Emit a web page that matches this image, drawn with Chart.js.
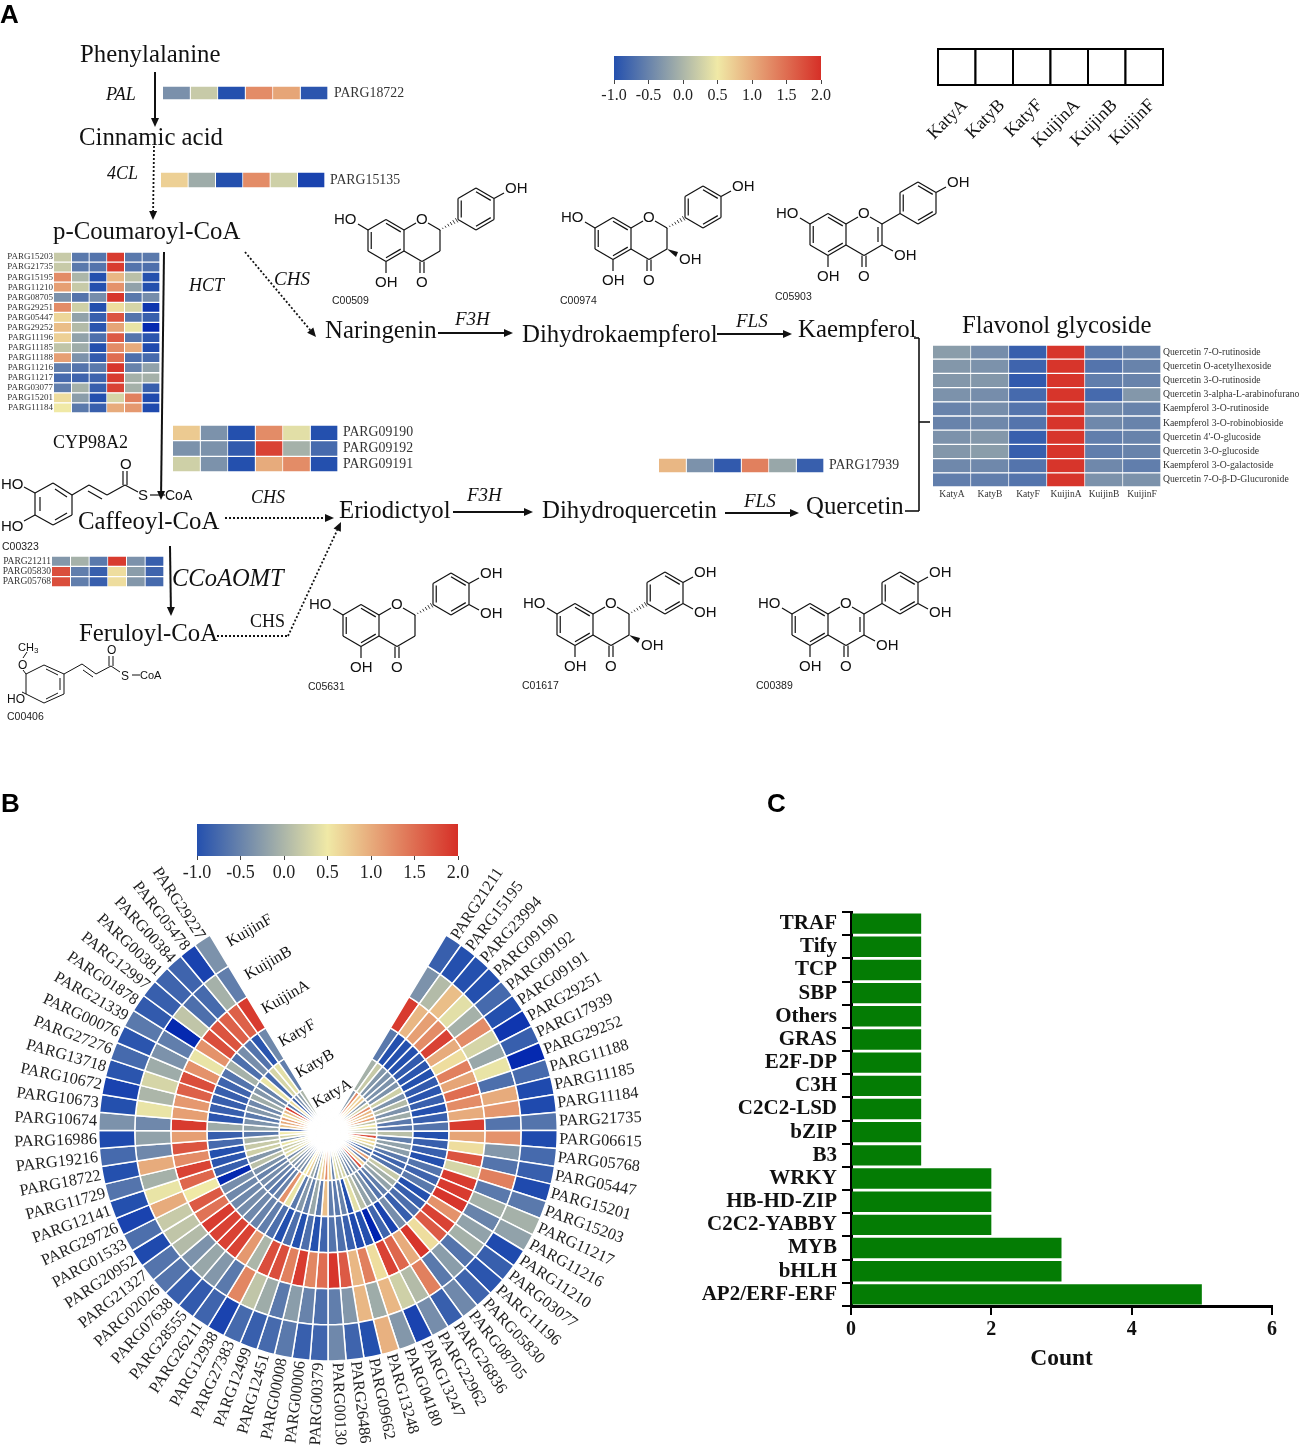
<!DOCTYPE html>
<html>
<head>
<meta charset="utf-8">
<title>Flavonoid pathway</title>
<script src="https://cdn.jsdelivr.net/npm/chart.js@4"></script>
<style>
  html, body { margin: 0; padding: 0; background: #fff; }
  #page { position: relative; width: 1299px; height: 1445px; overflow: hidden; }
  canvas { position: absolute; }
  svg { position: absolute; left: 0; top: 0; }
</style>
</head>
<body>
<div id="page"></div>
<script>
const samples = ["KatyA", "KatyB", "KatyF", "KuijinA", "KuijinB", "KuijinF"];

// panel A heatmaps, one row per gene, columns follow samples
const palGenes = ["PARG18722"];
const palValues = [[-0.37, 0.2, -1, 1.25, 1.05, -0.95]];
const clGenes = ["PARG15135"];
const clValues = [[0.7, -0.1, -1, 1.25, 0.25, -1.1]];
const hctGenes = ["PARG15203", "PARG21735", "PARG15195", "PARG11210", "PARG08705", "PARG29251", "PARG05447", "PARG29252",
  "PARG11196", "PARG11185", "PARG11188", "PARG11216", "PARG11217", "PARG03077", "PARG15201", "PARG11184"];
const hctValues = [
  [0.2, -0.6, -0.65, 1.9, -0.6, -0.6],
  [0.2, -0.6, -0.65, 1.9, -0.65, -0.7],
  [1.25, 0, -1, 0.9, 0.1, -1],
  [1.1, 0.2, -1, 1.2, -0.2, -1],
  [-0.35, -0.65, -0.4, 1.95, -0.6, -0.4],
  [1.25, 0.25, -1, 0.6, 0.3, -1.2],
  [0.65, -0.2, -0.85, 1.7, -0.65, -0.85],
  [0.85, 0.05, -0.95, 1.05, 0.45, -1.3],
  [0.7, -0.2, -0.7, 1.65, -0.65, -0.95],
  [0.15, -0.1, -1, 1.25, 1, -1.05],
  [1.1, -0.35, -0.9, 1.5, -0.7, -0.75],
  [-0.55, -0.65, -0.6, 1.95, -0.5, -0.2],
  [-0.75, -0.8, -0.8, 1.9, -0.05, -0.05],
  [-0.55, -0.05, -0.85, 1.85, -0.05, -0.85],
  [0.6, -0.25, -1, 0.3, 1.35, -1.05],
  [0.5, -0.6, -0.85, 1, 1.15, -1.05]
];
const cypGenes = ["PARG09190", "PARG09192", "PARG09191"];
const cypValues = [
  [0.75, -0.35, -1, 1.25, 0.4, -1],
  [-0.35, -0.35, -0.9, 1.85, -0.05, -0.75],
  [0.25, -0.35, -1, 1, 1.25, -1]
];
const comtGenes = ["PARG21211", "PARG05830", "PARG05768"];
const comtValues = [
  [-0.3, -0.05, -0.6, 1.9, -0.35, -0.85],
  [1.75, -0.55, -0.85, 0.6, -0.25, -0.8],
  [1.75, -0.55, -0.85, 0.6, -0.3, -0.75]
];
const flsGenes = ["PARG17939"];
const flsValues = [[0.9, -0.35, -0.9, 1.35, -0.15, -0.85]];
const glycosides = ["Quercetin 7-O-rutinoside", "Quercetin O-acetylhexoside", "Quercetin 3-O-rutinoside",
  "Quercetin 3-alpha-L-arabinofuranoside", "Kaempferol 3-O-rutinoside", "Kaempferol 3-O-robinobioside",
  "Quercetin 4'-O-glucoside", "Quercetin 3-O-glucoside", "Kaempferol 3-O-galactoside", "Quercetin 7-O-β-D-Glucuronide"];
const glycosideValues = [
  [-0.25, -0.4, -0.85, 1.95, -0.6, -0.5],
  [-0.3, -0.35, -0.8, 1.95, -0.65, -0.5],
  [-0.3, -0.3, -0.9, 1.95, -0.55, -0.5],
  [-0.35, -0.4, -0.75, 1.95, -0.75, -0.3],
  [-0.5, -0.4, -0.65, 1.95, -0.45, -0.5],
  [-0.5, -0.45, -0.65, 1.95, -0.45, -0.5],
  [-0.35, -0.3, -0.85, 1.95, -0.55, -0.5],
  [-0.3, -0.25, -0.85, 1.95, -0.55, -0.5],
  [-0.45, -0.45, -0.65, 1.95, -0.45, -0.55],
  [-0.55, -0.55, -0.65, 1.95, -0.35, -0.35]
];

// panel B circular heatmap
const ringGenes = ["PARG21211", "PARG15195", "PARG23994", "PARG09190", "PARG09192", "PARG09191", "PARG29251", "PARG17939", "PARG29252", "PARG11188",
  "PARG11185", "PARG11184", "PARG21735", "PARG06615", "PARG05768", "PARG05447", "PARG15201", "PARG15203", "PARG11217", "PARG11216",
  "PARG11210", "PARG03077", "PARG11196", "PARG05830", "PARG08705", "PARG26836", "PARG22962", "PARG13247", "PARG04180", "PARG13248",
  "PARG09662", "PARG26486", "PARG00130", "PARG00379", "PARG00006", "PARG00008", "PARG12451", "PARG12499", "PARG27383", "PARG12938",
  "PARG26211", "PARG28555", "PARG07638", "PARG02026", "PARG21327", "PARG20952", "PARG01533", "PARG29726", "PARG12141", "PARG11729",
  "PARG18722", "PARG19216", "PARG16986", "PARG10674", "PARG10673", "PARG10672", "PARG13718", "PARG27276", "PARG00076", "PARG21339",
  "PARG01878", "PARG12997", "PARG00381", "PARG00384", "PARG05478", "PARG29227"];
const ringKuijinF = [-0.85, -1, -1, -1, -0.75, -1, -1.2, -0.85, -1.3, -0.75,
  -1.05, -1.05, -0.65, -1.05, -0.75, -0.85, -1.05, -0.6, -0.05, -0.2,
  -1.05, -0.85, -0.95, -0.8, -0.45, -0.85, -0.4, -1.1, -0.3, 0.95,
  -1, -0.8, -0.45, -0.8, -0.85, -0.6, -0.75, -0.85, -0.75, -1.1,
  -0.8, -0.9, -0.85, -0.65, -0.65, -1.05, -0.7, -1.1, -1, -0.65,
  -1, -0.75, -1.05, -0.35, -1, -1.1, -0.95, -0.75, -0.95, -0.6,
  -0.9, -0.85, -0.8, -0.8, -1.1, -0.35];
const ringKuijinB = [-0.35, 0.05, 0.85, 0.4, -0.05, 1.25, 0.3, -0.15, 0.45, -0.7,
  1, 1.15, -0.65, 1.2, -0.3, -0.65, 1.35, -0.6, -0.05, -0.5,
  -0.2, -0.05, -0.65, -0.25, -0.6, 1.35, 0.05, 0.25, 0.9, -0.1,
  0.9, -0.3, -0.55, -0.7, -0.5, -0.25, -0.6, -0.1, 0.15, 1.3,
  -0.6, -0.3, -0.15, -0.35, 0.05, 0.15, 0.2, 1, 0.45, -0.05,
  1, -0.45, -0.2, -0.45, 0.45, 0, 0.3, -0.1, -0.35, -0.55,
  -1.3, 0.15, -0.7, -0.75, -0.05, -0.55];
const ringKuijinA = [1.9, 0.9, 1.1, 1.25, 1.85, 1, 0.6, 1.35, 1.05, 1.5,
  1.25, 1, 1.9, 1.05, 0.6, 1.7, 0.3, 1.9, 1.9, 1.95,
  1.2, 1.85, 1.65, 0.6, 1.95, 1, 1.55, 1.85, 0.6, 1.35,
  0.9, 1.65, 1.95, 1.5, 1.3, 1.9, 1.35, 1.75, 1.75, 0,
  1.15, 1.85, 1.85, 1.85, 1.9, 1.45, 1.65, 0.5, 1.55, 1.85,
  1.25, 1.7, 1.1, 1.9, 1.1, 1.15, 1.6, 1.75, 1.2, 0.45,
  1.2, 1.75, 1.7, 1.6, 1.6, 1.9];
const ringKatyF = [-0.6, -1, -1, -1, -0.9, -0.95, -1, -0.9, -0.95, -0.85,
  -1, -0.85, -0.65, -1, -0.85, -0.85, -1, -0.65, -0.8, -0.6,
  -1, -0.85, -0.7, -0.85, -0.4, -1.1, -0.8, -1.35, -1, -1.05,
  -0.85, -0.7, -0.65, -0.8, -1, -0.7, -1, -0.7, -1, -0.7,
  -0.55, -0.5, -0.45, -0.4, -0.45, -0.45, -0.4, -1.3, -0.85, -0.95,
  -1, -0.75, -0.85, -0.1, -0.95, -0.85, -0.85, -0.85, -0.8, -0.65,
  -0.05, -0.7, -0.4, -0.65, -0.95, -0.45];
const ringKatyB = [-0.05, 0.2, -0.3, -0.35, -0.35, -0.35, 0.25, -0.35, 0.05, -0.35,
  -0.1, -0.6, -0.6, 0.1, -0.55, -0.2, -0.25, -0.6, -0.8, -0.65,
  0.2, -0.05, -0.2, -0.55, -0.65, -0.35, -0.2, 0.1, 0.4, -1,
  -0.5, -0.6, -0.55, 0.85, -0.6, -0.15, -0.55, -0.3, -0.6, 0.45,
  1.2, -0.5, -0.6, -0.5, -0.4, -0.5, -0.35, 0.1, -0.3, 0.25,
  0.2, 0, -0.6, -0.2, -0.35, -0.6, -0.3, -0.45, -0.1, -0.3,
  -0.5, 0.45, -0.75, 0.3, 0.4, -0.55];
const ringKatyA = [-0.3, 1.25, 0.7, 0.75, -0.3, 0.25, 1.25, 0.9, 0.85, 1.1,
  0.15, 0.5, 0.2, 0.1, 1.75, 0.65, 0.6, 0.2, -0.75, -0.55,
  1.1, -0.55, 0.7, 1.75, -0.35, -0.4, -0.5, -0.3, 0.3, 0.2,
  0.4, -0.5, 0.7, 1.25, 0.8, 0.4, -0.4, -0.1, 0.7, 0.5,
  -0.4, -0.3, -0.4, -0.3, 0.1, -0.4, 0.4, 0.3, 0.2, 0.45,
  -0.37, 0.3, 0.5, -0.9, 0.8, 1, 1.1, 0.6, 0.9, 1.9,
  -0.6, 0.6, -0.8, -0.4, -0.2, 0];

// panel C
const families = ["TRAF", "Tify", "TCP", "SBP", "Others", "GRAS", "E2F-DP", "C3H", "C2C2-LSD", "bZIP", "B3",
  "WRKY", "HB-HD-ZIP", "C2C2-YABBY", "MYB", "bHLH", "AP2/ERF-ERF"];
const familyCounts = [1, 1, 1, 1, 1, 1, 1, 1, 1, 1, 1, 2, 2, 2, 3, 3, 5];
const countTicks = [0, 2, 4, 6];

const SERIF = "'Liberation Serif', serif";
const SANS = "'Liberation Sans', sans-serif";
Chart.defaults.font.family = SERIF;
Chart.defaults.animation = false;
Chart.defaults.responsive = false;
Chart.defaults.plugins.legend.display = false;
Chart.defaults.plugins.tooltip.enabled = false;

const page = document.getElementById("page");

function addCanvas(left, top, w, h) {
  const c = document.createElement("canvas");
  c.width = w;
  c.height = h;
  c.style.left = left + "px";
  c.style.top = top + "px";
  c.style.width = w + "px";
  c.style.height = h + "px";
  page.appendChild(c);
  return c;
}

// colour scale of the figure: blue at -1, pale yellow at 0.5, red at 2
const stops = [[-1.35, [0, 35, 176]], [-1, [36, 80, 174]], [0.5, [240, 233, 166]], [2, [214, 47, 39]]];
function zColor(z) {
  for (let i = 0; i < stops.length - 1; i++) {
    const a = stops[i], b = stops[i + 1];
    if (z <= b[0]) {
      const t = Math.max(0, (z - a[0]) / (b[0] - a[0]));
      const c = a[1].map((v, k) => Math.round(v + (b[1][k] - v) * t));
      return "rgb(" + c.join(",") + ")";
    }
  }
  return "rgb(214,47,39)";
}

// heatmap: stacked horizontal bars, every column one dataset of unit-long cells
function heatmap(left, top, w, h, rows, values, opt) {
  opt = opt || {};
  const labelW = opt.labelW || 0;
  const bottomH = opt.columns ? 16 : 0;
  const side = opt.side || "left";
  const cLeft = side === "left" ? left - labelW : left;
  const canvas = addCanvas(cLeft, top, w + labelW, h + bottomH);
  new Chart(canvas, {
    type: "bar",
    data: {
      labels: rows,
      datasets: samples.map((s, c) => ({
        label: s,
        data: rows.map(() => 1),
        backgroundColor: values.map(v => zColor(v[c])),
        borderColor: "#fff",
        borderWidth: 1,
        barPercentage: 1,
        categoryPercentage: 1
      }))
    },
    options: {
      indexAxis: "y",
      layout: { padding: 0 },
      scales: {
        x: {
          type: "linear", stacked: true, min: 0, max: 6,
          display: !!opt.columns,
          grid: { display: false, drawTicks: false }, border: { display: false },
          afterBuildTicks: a => { a.ticks = samples.map((s, i) => ({ value: i + 0.5 })); },
          afterFit: a => { a.height = bottomH; a.paddingLeft = 0; a.paddingRight = 0; },
          ticks: {
            autoSkip: false, maxRotation: 0, padding: 2, color: "#333",
            font: { size: 9.5 },
            callback: v => samples[Math.floor(v)]
          }
        },
        y: {
          stacked: true,
          position: side,
          display: labelW > 0,
          grid: { display: false, drawTicks: false }, border: { display: false },
          // labels may hang over the first and last row, no room is kept for them
          afterFit: a => { a.width = labelW; a.paddingTop = 0; a.paddingBottom = 0; },
          ticks: {
            autoSkip: false, padding: opt.tickPad === undefined ? 1 : opt.tickPad,
            color: "#333",
            font: { size: opt.fontSize || 9.5 }
          }
        }
      }
    }
  });
}

// colour bar: one floating bar on a linear axis, filled with the colour scale
function colorbar(left, top, w, h, fontSize, axisH) {
  const pad = 22;
  const canvas = addCanvas(left - pad, top, w + pad * 2, h + axisH);
  new Chart(canvas, {
    type: "bar",
    data: {
      labels: [""],
      datasets: [{
        data: [[-1, 2]],
        barPercentage: 1,
        categoryPercentage: 1,
        backgroundColor: ctx => {
          const a = ctx.chart.chartArea;
          if (!a) return "#888";
          const g = ctx.chart.ctx.createLinearGradient(a.left, 0, a.right, 0);
          g.addColorStop(0, zColor(-1));
          g.addColorStop(0.5, zColor(0.5));
          g.addColorStop(1, zColor(2));
          return g;
        }
      }]
    },
    options: {
      indexAxis: "y",
      layout: { padding: { left: pad, right: pad } },
      scales: {
        x: {
          type: "linear", min: -1, max: 2,
          border: { display: false },
          grid: { drawOnChartArea: false, drawTicks: true, tickLength: 4, color: "#444" },
          afterFit: a => { a.height = axisH; },
          ticks: { stepSize: 0.5, padding: 2, color: "#222", font: { size: fontSize }, maxRotation: 0, callback: v => v.toFixed(1) }
        },
        y: { display: false }
      }
    }
  });
}

heatmap(163, 86, 165, 14, palGenes, palValues, { labelW: 80, side: "right", fontSize: 13.8, tickPad: 6 });
heatmap(161, 172, 164, 16, clGenes, clValues, { labelW: 80, side: "right", fontSize: 13.8, tickPad: 5 });
heatmap(54, 252, 106, 161, hctGenes, hctValues, { labelW: 54, side: "left", fontSize: 9 });
heatmap(173, 425, 165, 47, cypGenes, cypValues, { labelW: 80, side: "right", fontSize: 13.8, tickPad: 5 });
heatmap(52, 556, 112, 31, comtGenes, comtValues, { labelW: 52, side: "left", fontSize: 9.5 });
heatmap(659, 458, 165, 15, flsGenes, flsValues, { labelW: 80, side: "right", fontSize: 13.8, tickPad: 5 });
heatmap(933, 345, 228, 142, glycosides, glycosideValues, { labelW: 138, side: "right", fontSize: 9.7, tickPad: 2, columns: true });

colorbar(614, 56, 207, 24, 16, 30);

// panel B: one doughnut ring per sample, gene names come from the outer ring's arcs
const geneLabels = {
  id: "geneLabels",
  afterDatasetsDraw(chart) {
    const ctx = chart.ctx;
    const arcs = chart.getDatasetMeta(0).data;
    ctx.save();
    // the rings fade out to white at the middle
    const mid0 = arcs[0].getProps(["x", "y"], true);
    const fade = ctx.createRadialGradient(mid0.x, mid0.y, 9, mid0.x, mid0.y, 26);
    fade.addColorStop(0, "rgba(255,255,255,1)");
    fade.addColorStop(1, "rgba(255,255,255,0)");
    ctx.fillStyle = fade;
    ctx.beginPath();
    ctx.arc(mid0.x, mid0.y, 26, 0, Math.PI * 2);
    ctx.fill();

    ctx.font = "16.3px " + SERIF;
    ctx.fillStyle = "#222";
    ctx.textBaseline = "middle";
    arcs.forEach((arc, i) => {
      const p = arc.getProps(["x", "y", "startAngle", "endAngle", "outerRadius"], true);
      const mid = (p.startAngle + p.endAngle) / 2;
      const r = p.outerRadius + 2;
      ctx.save();
      ctx.translate(p.x + Math.cos(mid) * r, p.y + Math.sin(mid) * r);
      if (Math.cos(mid) >= 0) {
        ctx.rotate(mid);
        ctx.textAlign = "left";
      } else {
        ctx.rotate(mid + Math.PI);
        ctx.textAlign = "right";
      }
      ctx.fillText(ringGenes[i], 0, 0);
      ctx.restore();
    });
    ctx.restore();
  }
};

const ringSeries = [ringKuijinF, ringKuijinB, ringKuijinA, ringKatyF, ringKatyB, ringKatyA];
new Chart(addCanvas(0, 780, 660, 665), {
  type: "doughnut",
  data: {
    labels: ringGenes,
    datasets: ringSeries.map(vals => ({
      data: vals.map(() => 1),
      backgroundColor: vals.map(zColor),
      borderColor: "#fff",
      borderWidth: 1.5
    }))
  },
  options: {
    rotation: 31,
    circumference: 298,
    cutout: 12,
    layout: { padding: { left: 98, right: 102, top: 153, bottom: 82 } }
  },
  plugins: [geneLabels]
});

colorbar(197, 824, 261, 32, 18, 30);

// panel C
new Chart(addCanvas(680, 880, 619, 493), {
  type: "bar",
  data: {
    labels: families,
    datasets: [{
      data: familyCounts,
      backgroundColor: "#047c04",
      barPercentage: 0.88,
      categoryPercentage: 1
    }]
  },
  options: {
    indexAxis: "y",
    layout: { padding: { top: 32, right: 27 } },
    scales: {
      x: {
        type: "linear", min: 0, max: 6,
        afterBuildTicks: a => { a.ticks = countTicks.map(v => ({ value: v })); },
        afterFit: a => { a.height = 67; },
        border: { display: true, color: "#000", width: 3 },
        grid: { drawOnChartArea: false, drawTicks: true, tickLength: 9, color: "#000", lineWidth: 2 },
        ticks: { color: "#111", padding: 3, maxRotation: 0, font: { size: 20, weight: "bold" } },
        title: { display: true, text: "Count", color: "#111", padding: { top: 4, bottom: 0 }, font: { size: 23.5, weight: "bold" } }
      },
      y: {
        afterFit: a => { a.width = 171; },
        border: { display: true, color: "#000", width: 3 },
        grid: { drawOnChartArea: false, drawTicks: true, tickLength: 9, color: "#000", lineWidth: 2 },
        ticks: { autoSkip: false, color: "#111", padding: 5, font: { size: 21, weight: "bold" } }
      }
    }
  }
});

// pathway drawing on top of the charts
let svg = "";
function text(str, x, y, size, o) {
  o = o || {};
  const tr = o.rot ? ' transform="rotate(' + o.rot + " " + x + " " + y + ')"' : "";
  svg += '<text x="' + x + '" y="' + y + '" font-size="' + size + '" font-family="' + (o.font || SERIF).replace(/'/g, "") + '"'
    + (o.italic ? ' font-style="italic"' : "") + (o.bold ? ' font-weight="bold"' : "")
    + (o.anchor ? ' text-anchor="' + o.anchor + '"' : "")
    + ' fill="' + (o.fill || "#111") + '"' + tr + ">" + str + "</text>";
}
function seg(x1, y1, x2, y2, w, dash) {
  svg += '<line x1="' + x1 + '" y1="' + y1 + '" x2="' + x2 + '" y2="' + y2 + '" stroke="#111" stroke-width="' + (w || 1.2) + '"'
    + (dash ? ' stroke-dasharray="' + dash + '"' : "") + "/>";
}
function arrow(x1, y1, x2, y2, w, dash) {
  const a = Math.atan2(y2 - y1, x2 - x1);
  const len = 9, hw = 4;
  const bx = x2 - Math.cos(a) * len, by = y2 - Math.sin(a) * len;
  seg(x1, y1, bx, by, w, dash);
  const nx = -Math.sin(a) * hw, ny = Math.cos(a) * hw;
  svg += '<polygon points="' + x2 + "," + y2 + " " + (bx + nx) + "," + (by + ny) + " " + (bx - nx) + "," + (by - ny) + '" fill="#111"/>';
}

// flavonoid skeleton, x/y is carbon 7 of the A ring
function flavonoid(x, y, kind, catechol) {
  const P = {
    c7: [0, 0], c8: [18, -10.5], c8a: [36, 0], c4a: [36, 21], c5: [18, 31.5], c6: [0, 21],
    o1: [54, -10.5], c2: [72, 0], c3: [72, 21], c4: [54, 31.5],
    b1: [90, -10.5], b2: [90, -31.5], b3: [108, -42], b4: [126, -31.5], b5: [126, -10.5], b6: [108, 0]
  };
  const pt = n => [x + P[n][0], y + P[n][1]];
  const bond = (a, b) => { const p = pt(a), q = pt(b); seg(p[0], p[1], q[0], q[1]); };
  const inner = (a, b, cx, cy) => {
    const p = pt(a), q = pt(b);
    const mx = x + cx, my = y + cy;
    const f = 0.82;
    const ix = (p[0] - mx) * f + mx, iy = (p[1] - my) * f + my;
    const jx = (q[0] - mx) * f + mx, jy = (q[1] - my) * f + my;
    seg(ix, iy, jx, jy);
  };
  [["c7", "c8"], ["c8", "c8a"], ["c8a", "c4a"], ["c4a", "c5"], ["c5", "c6"], ["c6", "c7"], ["c2", "c3"], ["c3", "c4"], ["c4", "c4a"],
    ["b1", "b2"], ["b2", "b3"], ["b3", "b4"], ["b4", "b5"], ["b5", "b6"], ["b6", "b1"]].forEach(b => bond(b[0], b[1]));
  inner("c7", "c6", 18, 10.5);
  inner("c8", "c8a", 18, 10.5);
  inner("c4a", "c5", 18, 10.5);
  inner("b1", "b2", 108, -21);
  inner("b3", "b4", 108, -21);
  inner("b5", "b6", 108, -21);
  seg(x + 36, y, x + 48, y - 7);
  seg(x + 60, y - 7, x + 72, y);
  seg(x, y, x - 10, y - 6);
  seg(x + 18, y + 31.5, x + 18, y + 43);
  seg(x + 52, y + 31.5, x + 52, y + 43);
  seg(x + 56, y + 31.5, x + 56, y + 43);
  seg(x + 126, y - 31.5, x + 136, y - 37);
  if (kind === "flavonol") {
    seg(x + 72, y, x + 90, y - 10.5);
    seg(x + 68, y + 3, x + 68, y + 18);
  } else {
    // hashed bond from C2 to the B ring
    for (let t = 0; t <= 6; t++) {
      const hx = x + 72 + 18 * t / 6.5, hy = y - 10.5 * t / 6.5;
      const s = 0.4 + t * 0.35;
      seg(hx - s * 0.5, hy - s * 0.85, hx + s * 0.5, hy + s * 0.85, 0.8);
    }
  }
  if (kind === "flavonol" || kind === "dihydro") {
    if (kind === "dihydro") {
      svg += '<polygon points="' + (x + 72) + "," + (y + 21) + " " + (x + 83) + "," + (y + 24) + " " + (x + 81) + "," + (y + 29) + '" fill="#111"/>';
    } else {
      seg(x + 72, y + 21, x + 83, y + 27);
    }
    text("OH", x + 84, y + 36, 15, { font: SANS });
  }
  text("HO", x - 34, y - 6, 15, { font: SANS });
  text("O", x + 48, y - 6, 15, { font: SANS });
  text("OH", x + 7, y + 57, 15, { font: SANS });
  text("O", x + 48, y + 57, 15, { font: SANS });
  text("OH", x + 137, y - 37, 15, { font: SANS });
  if (catechol) {
    seg(x + 126, y - 10.5, x + 136, y - 5);
    text("OH", x + 137, y + 3, 15, { font: SANS });
  }
}

text("A", 0, 23, 26, { font: SANS, bold: true, fill: "#000" });
text("B", 1, 812, 26, { font: SANS, bold: true, fill: "#000" });
text("C", 767, 812, 26, { font: SANS, bold: true, fill: "#000" });

[["Phenylalanine", 80, 62], ["Cinnamic acid", 79, 145], ["p-Coumaroyl-CoA", 53, 239], ["Naringenin", 325, 338],
  ["Dihydrokaempferol", 522, 342], ["Kaempferol", 798, 337], ["Flavonol glycoside", 962, 333],
  ["Eriodictyol", 339, 518], ["Dihydroquercetin", 542, 518], ["Quercetin", 806, 514],
  ["Caffeoyl-CoA", 78, 529], ["Feruloyl-CoA", 79, 641]].forEach(t => text(t[0], t[1], t[2], 24.8));

[["PAL", 106, 100, 18], ["4CL", 107, 179, 18], ["HCT", 189, 291, 18], ["CHS", 274, 285, 19], ["F3H", 455, 325, 19],
  ["FLS", 736, 327, 19], ["CHS", 251, 503, 18], ["F3H", 467, 501, 19], ["FLS", 744, 507, 19], ["CCoAOMT", 172, 586, 24.5]]
  .forEach(t => text(t[0], t[1], t[2], t[3], { italic: true }));
text("CYP98A2", 53, 448, 18);
text("CHS", 250, 627, 18);

arrow(155, 72, 155, 127, 2);
arrow(154, 146, 153, 220, 1.8, "2 2");
arrow(164, 252, 161, 500, 2);
arrow(245, 252, 316, 337, 1.8, "2 2");
arrow(438, 333, 513, 333, 1.8);
arrow(717, 334, 792, 334, 1.8);
arrow(225, 518, 334, 518, 1.8, "2 2");
arrow(453, 512, 533, 512, 1.8);
arrow(725, 513, 799, 513, 1.8);
arrow(170, 546, 171, 616, 2);
seg(217, 636, 288, 636, 1.8, "2 2");
arrow(288, 636, 341, 522, 1.8, "2 2");

// bracket from the aglycones to the glycoside heatmap
seg(914, 338, 919, 338, 1.6);
seg(919, 338, 919, 511, 1.6);
seg(905, 511, 919, 511, 1.6);
seg(919, 422, 930, 422, 1.6);

flavonoid(368, 230, "flavanone", false);
flavonoid(595, 228, "dihydro", false);
flavonoid(810, 224, "flavonol", false);
flavonoid(343, 615, "flavanone", true);
flavonoid(557, 614, "dihydro", true);
flavonoid(792, 614, "flavonol", true);

[["C00509", 332, 304], ["C00974", 560, 304], ["C05903", 775, 300], ["C00323", 2, 550], ["C05631", 308, 690],
  ["C01617", 522, 689], ["C00389", 756, 689], ["C00406", 7, 720]].forEach(t => text(t[0], t[1], t[2], 10.5, { font: SANS, fill: "#222" }));

// caffeoyl-CoA
[[35, 493, 53, 483], [53, 483, 72, 495], [72, 495, 72, 515], [72, 515, 53, 525], [53, 525, 35, 515], [35, 515, 35, 493],
  [40, 497, 40, 511], [55, 489, 67, 497], [55, 520, 67, 513], [72, 495, 89, 485], [89, 485, 107, 495], [88, 491, 102, 499],
  [107, 495, 125, 485], [123, 485, 123, 471], [127, 485, 127, 471], [125, 485, 138, 492], [150, 495, 165, 495],
  [35, 493, 24, 487], [35, 515, 24, 521]].forEach(b => seg(b[0], b[1], b[2], b[3]));
text("HO", 1, 489, 15, { font: SANS });
text("HO", 1, 531, 15, { font: SANS });
text("O", 120, 469, 15, { font: SANS });
text("S", 138, 500, 15, { font: SANS });
text("CoA", 165, 500, 14, { font: SANS });

// feruloyl-CoA
[[44, 665, 64, 674], [64, 674, 64, 694], [64, 694, 44, 703], [44, 703, 26, 694], [26, 694, 26, 674], [26, 674, 44, 665],
  [60, 678, 60, 690], [46, 669, 58, 675], [46, 699, 58, 693], [64, 674, 82, 664], [82, 664, 96, 674], [83, 670, 93, 677],
  [96, 674, 111, 666], [109, 666, 109, 656], [113, 666, 113, 656], [111, 666, 120, 672], [132, 675, 140, 675],
  [26, 674, 23, 670], [23, 658, 27, 652], [26, 694, 22, 692]].forEach(b => seg(b[0], b[1], b[2], b[3], 1));
text("CH<tspan font-size='8' dy='2'>3</tspan>", 18, 651, 11, { font: SANS });
text("O", 18, 669, 12, { font: SANS });
text("HO", 7, 703, 12, { font: SANS });
text("O", 107, 654, 12, { font: SANS });
text("S", 121, 680, 12, { font: SANS });
text("CoA", 140, 679, 11, { font: SANS });

// key to the heatmap columns
for (let i = 0; i < 6; i++) {
  const x = 938 + i * 37.5;
  svg += '<rect x="' + x + '" y="49" width="37.5" height="36" fill="#fff" stroke="#000" stroke-width="2"/>';
  text(samples[i], x + 30, 106, 18, { anchor: "end", rot: -45 });
}

// ring names inside the gap of panel B
[["KuijinF", 230, 947], ["KuijinB", 248, 980], ["KuijinA", 265, 1014], ["KatyF", 282, 1047], ["KatyB", 299, 1078], ["KatyA", 316, 1108]]
  .forEach(t => text(t[0], t[1], t[2], 16, { rot: -30 }));

const holder = document.createElement("div");
holder.innerHTML = '<svg width="1299" height="1445" xmlns="http://www.w3.org/2000/svg">' + svg + "</svg>";
page.appendChild(holder.firstChild);
</script>
</body>
</html>
